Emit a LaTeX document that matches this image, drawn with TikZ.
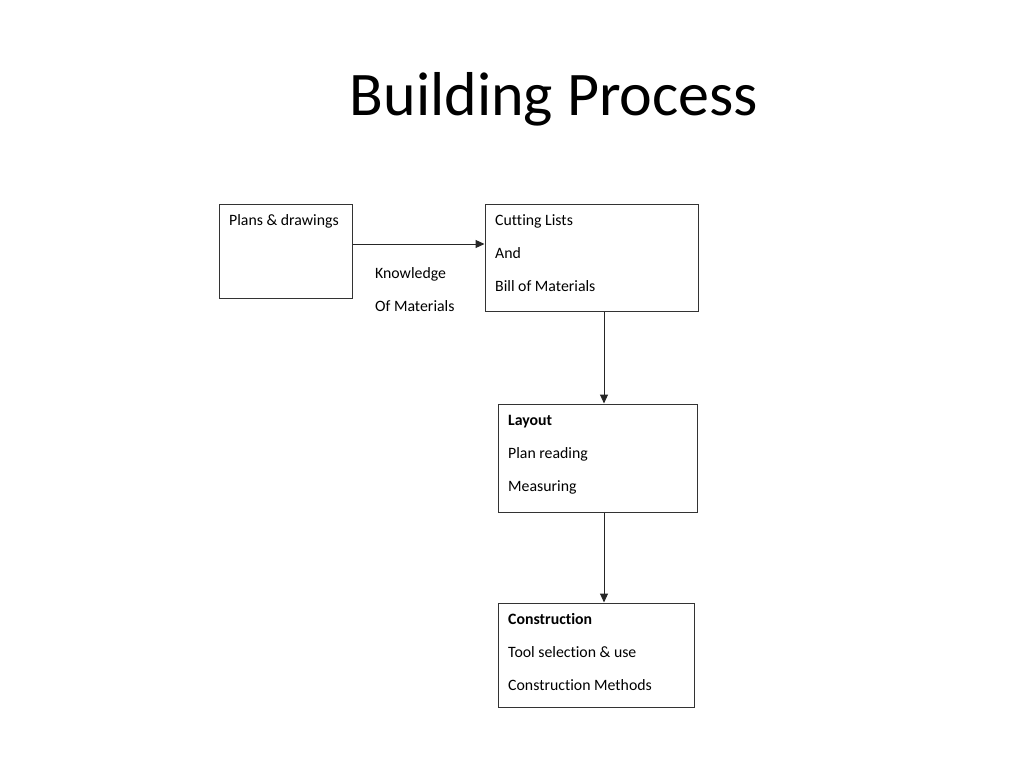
\documentclass[tikz,border=0pt]{standalone}
\usepackage{fontspec}
\setmainfont{Carlito}[Ligatures=NoCommon]
\usetikzlibrary{arrows.meta}
\begin{document}
\begin{tikzpicture}[x=1pt,y=-1pt,
  box/.style={draw=black!80,line width=1pt,rectangle,inner sep=0pt},
  lbl/.style={anchor=base west,inner sep=0pt,font=\fontsize{15.8}{18}\selectfont},
  conn/.style={draw=black!85,line width=1pt,-{Triangle[length=9pt,width=8pt]}}]
\useasboundingbox (0,0) rectangle (1024,768);
\node[anchor=center,inner sep=0pt,font=\fontsize{62}{70}\selectfont] (title) at (554,99) {Building Process};
% boxes
\node[box,minimum width=133pt,minimum height=94pt] (A) at (285.5,251) {};
\node[box,minimum width=213pt,minimum height=107pt] (B) at (591.5,257.5) {};
\node[box,minimum width=199pt,minimum height=108pt] (C) at (597.5,458) {};
\node[box,minimum width=196pt,minimum height=104pt] (D) at (596,655) {};
% texts
\node[lbl] (a1) at (229,225) {Plans \& drawings};
\node[lbl] (b1) at (495,225) {Cutting Lists};
\node[lbl] (b2) at (495,258) {And};
\node[lbl] (b3) at (495,291) {Bill of Materials};
\node[lbl] (k1) at (375,278) {Knowledge};
\node[lbl] (k2) at (375,311) {Of Materials};
\node[lbl,font=\fontsize{15.8}{18}\selectfont\bfseries] (c1) at (508,425) {Layout};
\node[lbl] (c2) at (508,458) {Plan reading};
\node[lbl] (c3) at (508,491) {Measuring};
\node[lbl,font=\fontsize{15.8}{18}\selectfont\bfseries] (d1) at (508,624) {Construction};
\node[lbl] (d2) at (508,657) {Tool selection \& use};
\node[lbl] (d3) at (508,690) {Construction Methods};
% connectors
\coordinate (ae) at (A.east |- 0,244);
\coordinate (bw) at (B.west |- 0,244);
\draw[conn] (ae) -- (bw);
\coordinate (bs) at (604,0 |- B.south);
\coordinate (cn) at (604,0 |- C.north);
\draw[conn] (bs) -- (cn);
\coordinate (cs) at (604,0 |- C.south);
\coordinate (dn) at (604,0 |- D.north);
\draw[conn] (cs) -- (dn);
\end{tikzpicture}
\end{document}
